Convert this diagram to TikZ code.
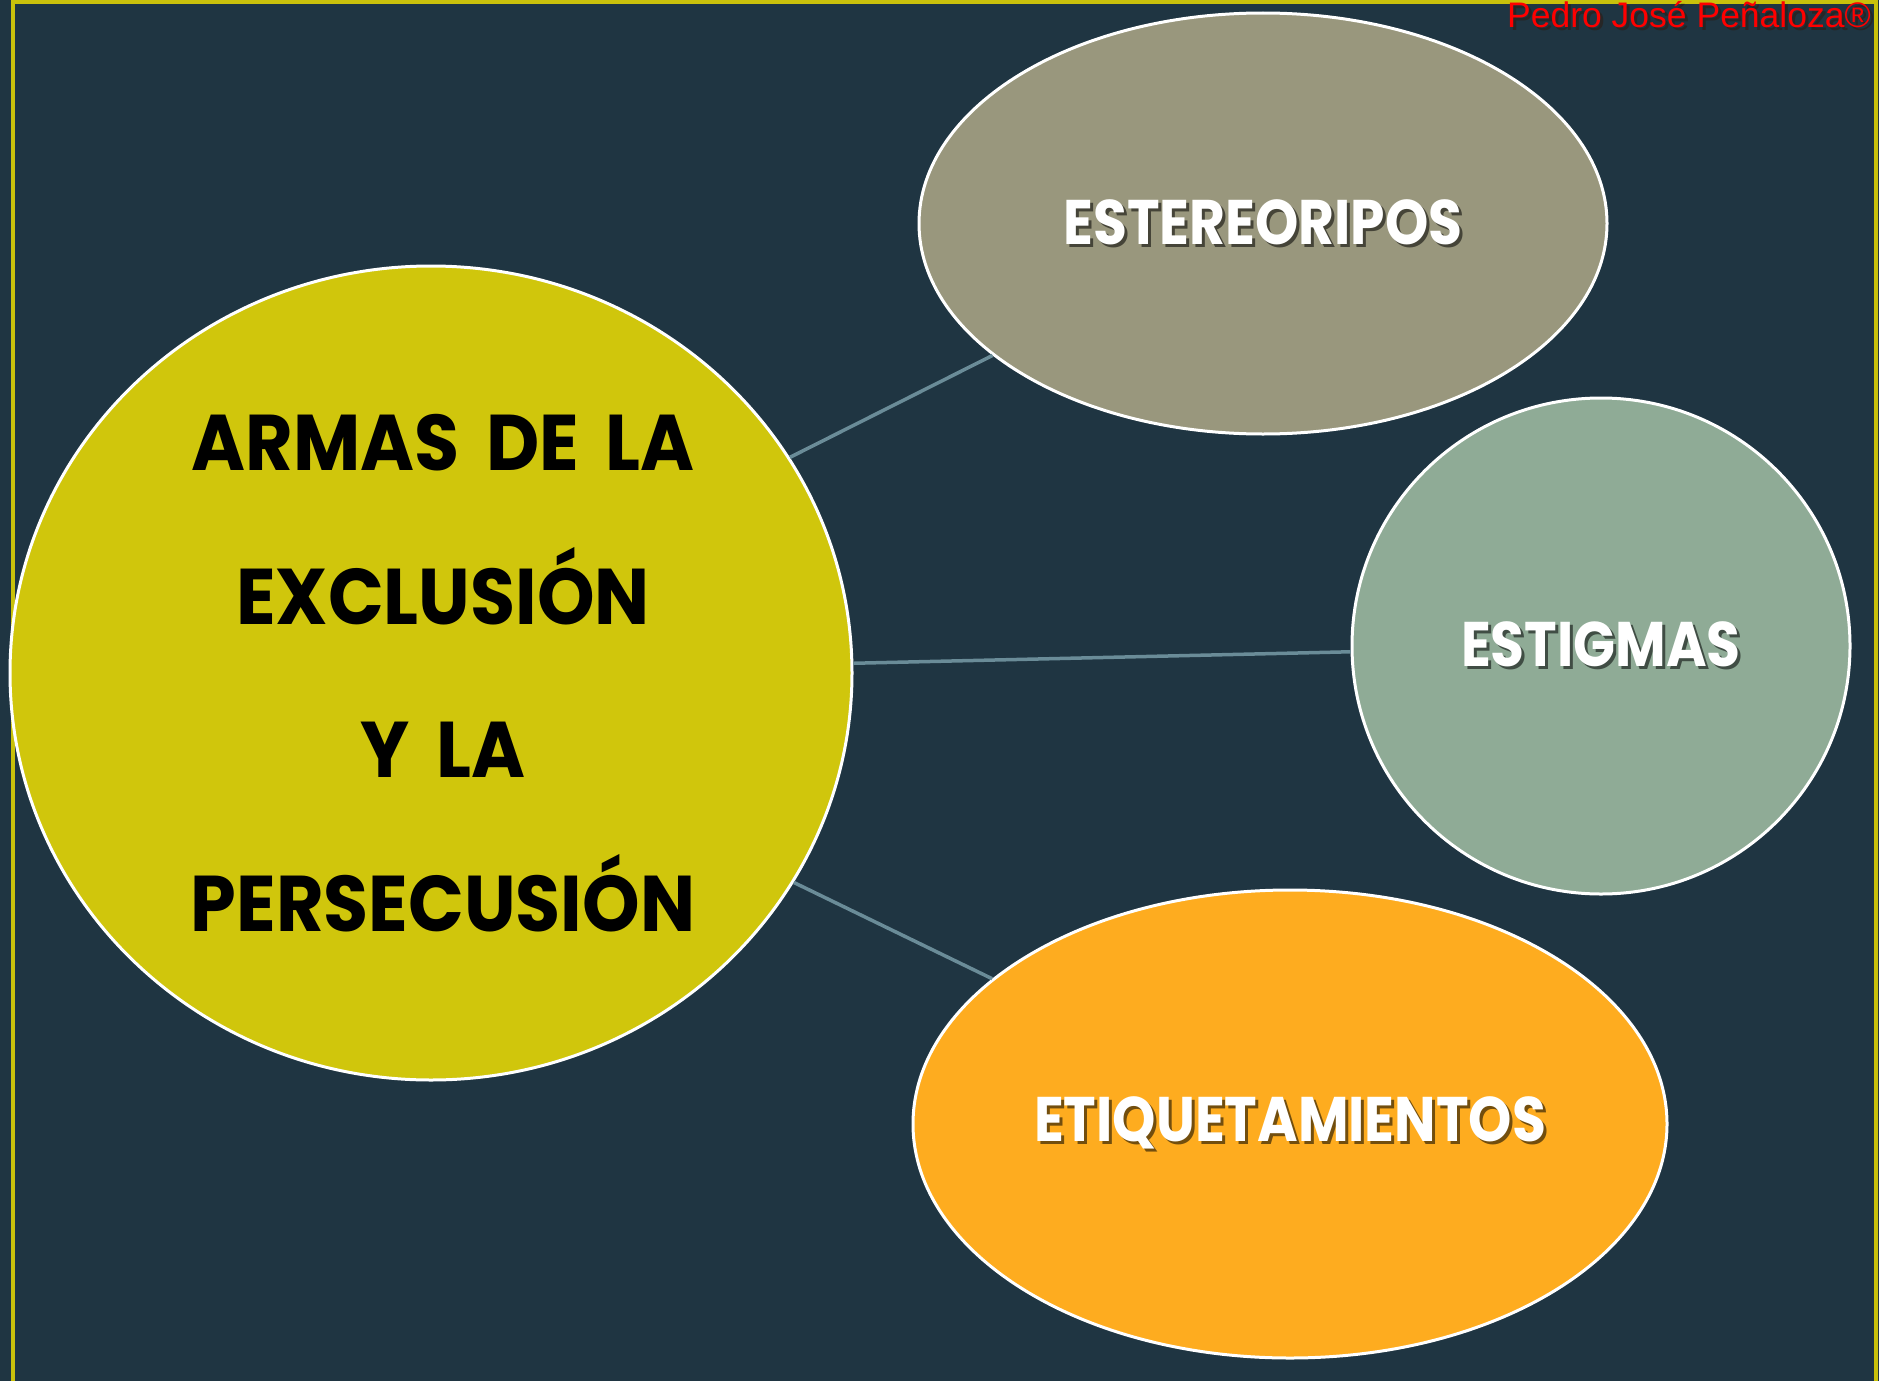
\documentclass[tikz,border=0pt]{standalone}
\usepackage{fontspec}
\usetikzlibrary{shapes.geometric}
\newfontfamily\futfont{Poppins}[FakeStretch=0.875]
\newfontfamily\bigfont{Poppins}[FakeStretch=0.927,WordSpace=1.7]
\newfontfamily\markfont{Liberation Sans}
\definecolor{bgblue}{HTML}{1F3542}
\definecolor{mainyellow}{HTML}{D0C60C}
\definecolor{rimyellow}{HTML}{C9C10B}
\definecolor{stereogray}{HTML}{99977D}
\definecolor{stigmagreen}{HTML}{8FAB96}
\definecolor{etiqorange}{HTML}{FEAC1F}
\definecolor{linkgray}{HTML}{6A8C98}
\newcommand{\shadowed}[2]{\rlap{\kern3pt\raisebox{-3pt}{\textcolor{#1}{#2}}}#2}

\begin{document}
\begin{tikzpicture}[x=1pt,y=-1pt,
  bubble/.style={ellipse,draw=white,line width=3pt,inner sep=0pt},
  link/.style={draw=linkgray,line width=3.5pt},
  tag/.style={text=white,font=\futfont\bfseries\fontsize{63}{63}\selectfont}]
\useasboundingbox (0,0) rectangle (1879,1381);
\fill[bgblue] (0,0) rectangle (1879,1381);
\draw[rimyellow,line width=4pt] (13,1381) -- (13,2) -- (1875.5,2) -- (1875.5,1381);
% bubbles
\node[bubble,fill=mainyellow,minimum width=842pt,minimum height=814pt] (armas) at (431,673) {};
\node[align=center,inner sep=0pt,font=\bigfont\bfseries\fontsize{79}{153.7}\selectfont] (armastext)
  at ([xshift=12pt]armas.center) {ARMAS DE LA\\EXCLUSIÓN\\Y LA\\PERSECUSIÓN};
\node[bubble,fill=stereogray,minimum width=688pt,minimum height=421pt,tag] (stereo) at (1263,223.5)
  {\shadowed{stereogray!45!black}{ESTEREORIPOS}};
\node[bubble,fill=stigmagreen,minimum width=498pt,minimum height=496pt,tag] (stigma) at (1601,646)
  {\shadowed{stigmagreen!45!black}{ESTIGMAS}};
\node[bubble,fill=etiqorange,minimum width=754pt,minimum height=468pt,tag] (etiq) at (1290,1124)
  {\shadowed{etiqorange!45!black}{ETIQUETAMIENTOS}};
% links
\draw[link] (armas.31) -- (stereo.206);
\draw[link] (armas) -- (stigma);
\draw[link] (armas.-30) -- (etiq.154);
% watermark
\node[anchor=base east,text=red,inner sep=0pt,font=\markfont\fontsize{35.5}{35.5}\selectfont] (mark) at (1871,28)
  {\shadowed{black!85}{Pedro José Peñaloza®}};
\end{tikzpicture}
\end{document}
